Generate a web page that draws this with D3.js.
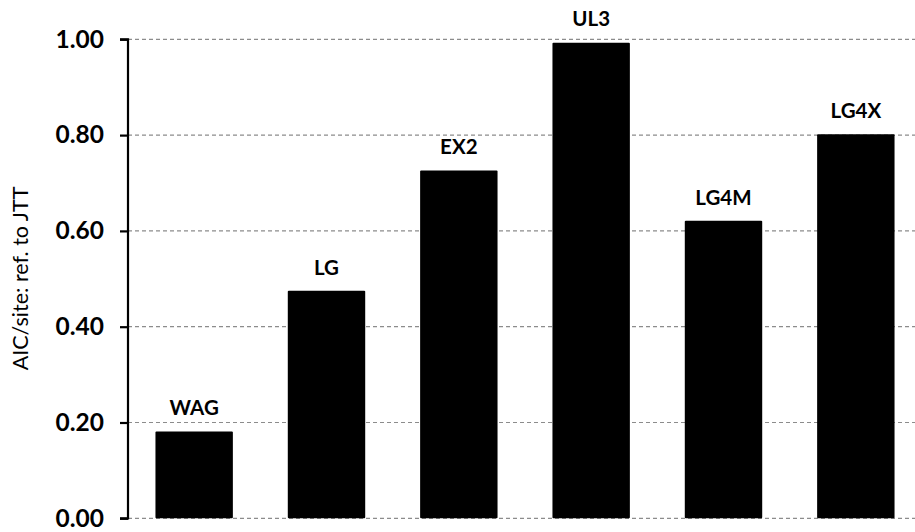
<!DOCTYPE html>
<html><head><meta charset="utf-8">
<script src="https://cdn.jsdelivr.net/npm/d3@7"></script>
<style>body{margin:0;background:#fff}svg{display:block}</style>
</head><body>
<svg id="c" width="915" height="532"></svg>
<script>
const categories = ["WAG","LG","EX2","UL3","LG4M","LG4X"];
const values = [0.181, 0.475, 0.726, 0.993, 0.621, 0.802];
const yTicks = [0, 0.2, 0.4, 0.6, 0.8, 1.0];
const yLabel = "AIC/site: ref. to JTT";

(function () {
const svg = d3.select("#c");
const mLeft = 128, mRight = 922, mTop = 39.3, mBottom = 518.3;
const x = d3.scaleBand().domain(categories).range([mLeft, mRight]).paddingInner(0.415).paddingOuter(0.2075);
const y = d3.scaleLinear().domain([0, 1]).range([mBottom, mTop]);

// gridlines
svg.append("g").selectAll("line").data(yTicks).join("line")
  .attr("x1", mLeft).attr("x2", 915)
  .attr("y1", d => y(d)).attr("y2", d => y(d))
  .attr("stroke", "#8c8c8c").attr("stroke-width", 1.2).attr("stroke-dasharray", "4,3");

// bars
svg.append("g").selectAll("rect").data(categories).join("rect")
  .attr("x", d => x(d)).attr("width", x.bandwidth())
  .attr("y", (d, i) => y(values[i])).attr("height", (d, i) => y(0) - y(values[i]))
  .attr("fill", "#000").attr("rx", 1);

// bar labels
svg.append("g").selectAll("text").data(categories).join("text")
  .attr("x", d => x(d) + x.bandwidth() / 2)
  .attr("y", (d, i) => y(values[i]) - 16.2)
  .attr("text-anchor", "middle")
  .attr("font-family", "Lato").attr("font-weight", "bold").attr("font-size", 20.5)
  .text(d => d);

// y axis
const ax = svg.append("g").attr("transform", `translate(${mLeft},0)`)
  .call(d3.axisLeft(y).tickValues(yTicks).tickFormat(d3.format(".2f")).tickSize(8).tickPadding(16));
ax.select(".domain").attr("stroke", "#000").attr("stroke-width", 2.2).attr("d", `M-8,${y(1)}H0V${y(0)}H-8`);
ax.selectAll(".tick line").attr("stroke", "#000").attr("stroke-width", 2.2);
ax.selectAll(".tick text").attr("font-family", "Lato").attr("font-weight", "bold").attr("font-size", 24.5).attr("fill", "#000");

// y label
svg.append("text")
  .attr("transform", `translate(28,278.5) rotate(-90)`)
  .attr("text-anchor", "middle")
  .attr("font-family", "Lato").attr("font-size", 21.5).attr("fill", "#000")
  .text(yLabel);
})();
</script>
</body></html>
